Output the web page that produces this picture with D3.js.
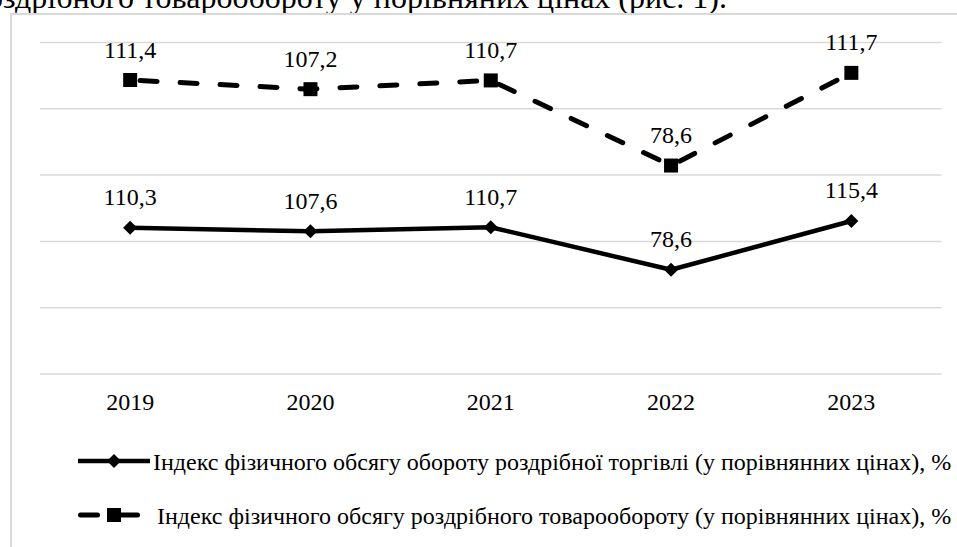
<!DOCTYPE html>
<html>
<head>
<meta charset="utf-8">
<script src="https://cdn.jsdelivr.net/npm/d3@7"></script>
<style>
  html, body { margin: 0; padding: 0; background: #fff; }
  svg { display: block; }
  text { font-family: "Liberation Serif", serif; }
</style>
</head>
<body>
<svg id="chart" width="957" height="547"></svg>
<script>
// Years on the category axis
const years = ["2019", "2020", "2021", "2022", "2023"];

// Index of physical volume of retail trade turnover (comparable prices), %
const retailTrade = [110.3, 107.6, 110.7, 78.6, 115.4];

// Index of physical volume of retail commodity turnover (comparable prices), %
const retailTurnover = [111.4, 107.2, 110.7, 78.6, 111.7];

// Value-axis gridlines (no tick labels are printed)
const gridTicks = [0, 50, 100, 150, 200, 250];

const seriesNames = [
  "Індекс фізичного обсягу обороту роздрібної торгівлі (у порівнянних цінах), %",
  "Індекс фізичного обсягу роздрібного товарообороту (у порівнянних цінах), %"
];

const fmt = v => String(v).replace(".", ",");

const svg = d3.select("#chart");
const W = 957, H = 547;

// Preceding paragraph line, cut by the top of the frame
svg.append("text")
  .attr("x", 727).attr("y", 7.5)
  .attr("text-anchor", "end")
  .attr("font-size", 32)
  .attr("fill", "#000")
  .text("роздрібного товарообороту у порівняних цінах (рис. 1).");

// Chart frame
svg.append("path")
  .attr("d", `M11,${H} L11,14 L${W},14`)
  .attr("fill", "none")
  .attr("stroke", "#d9d9d9")
  .attr("stroke-width", 2);

// Scales
const x = d3.scaleBand().domain(years).range([40, 941.5]);
const cx = d => x(d) + x.bandwidth() / 2;
const y = d3.scaleLinear().domain([0, 250]).range([374, 42.5]);

// Stacked line layout: the second series sits on top of the first
const table = years.map((yr, i) => ({ year: yr, a: retailTrade[i], b: retailTurnover[i] }));
const stacked = d3.stack().keys(["a", "b"])(table);

// Gridlines
svg.append("g")
  .selectAll("line")
  .data(gridTicks)
  .join("line")
  .attr("x1", x.range()[0]).attr("x2", x.range()[1])
  .attr("y1", d => y(d)).attr("y2", d => y(d))
  .attr("stroke", "#d9d9d9")
  .attr("stroke-width", 1.5);

// Category labels
svg.append("g")
  .selectAll("text")
  .data(years)
  .join("text")
  .attr("x", d => cx(d))
  .attr("y", 410)
  .attr("text-anchor", "middle")
  .attr("font-size", 24)
  .text(d => d);

const line = d3.line()
  .x(d => cx(d.data.year))
  .y(d => y(d[1]));

// Series 1: solid line with diamonds
svg.append("path")
  .datum(stacked[0])
  .attr("d", line)
  .attr("fill", "none")
  .attr("stroke", "#000")
  .attr("stroke-width", 4.5)
  .attr("stroke-linejoin", "round");

// Series 2: dashed line with squares
svg.append("path")
  .datum(stacked[1])
  .attr("d", line)
  .attr("fill", "none")
  .attr("stroke", "#000")
  .attr("stroke-width", 5)
  .attr("stroke-linecap", "round")
  .attr("stroke-dasharray", "17,23")
  .attr("stroke-dashoffset", -10);

const diamondPath = "M0,-7 L7,0 L0,7 L-7,0 Z";
const squarePath = "M-7,-7 L7,-7 L7,7 L-7,7 Z";

svg.append("g")
  .selectAll("path")
  .data(stacked[0])
  .join("path")
  .attr("transform", d => `translate(${cx(d.data.year)},${y(d[1])})`)
  .attr("d", diamondPath)
  .attr("fill", "#000");

svg.append("g")
  .selectAll("path")
  .data(stacked[1])
  .join("path")
  .attr("transform", d => `translate(${cx(d.data.year)},${y(d[1])})`)
  .attr("d", squarePath)
  .attr("fill", "#000");

// Data labels above each point
stacked.forEach((s, si) => {
  const key = si === 0 ? "a" : "b";
  svg.append("g")
    .selectAll("text")
    .data(s)
    .join("text")
    .attr("x", d => cx(d.data.year))
    .attr("y", d => y(d[1]) - 22.5)
    .attr("text-anchor", "middle")
    .attr("font-size", 24)
    .text(d => fmt(d.data[key]));
});

// Legend
const legend = svg.append("g");
// solid entry
legend.append("line")
  .attr("x1", 78).attr("x2", 150).attr("y1", 461).attr("y2", 461)
  .attr("stroke", "#000").attr("stroke-width", 4.5);
legend.append("path")
  .attr("transform", "translate(114,461)")
  .attr("d", diamondPath).attr("fill", "#000");
legend.append("text")
  .attr("x", 153).attr("y", 469.5)
  .attr("font-size", 24)
  .text(seriesNames[0]);
// dashed entry
legend.append("line")
  .attr("x1", 80.5).attr("x2", 138).attr("y1", 515).attr("y2", 515)
  .attr("stroke", "#000").attr("stroke-width", 5)
  .attr("stroke-linecap", "round")
  .attr("stroke-dasharray", "17,23");
legend.append("path")
  .attr("transform", "translate(114,515)")
  .attr("d", squarePath).attr("fill", "#000");
legend.append("text")
  .attr("x", 157).attr("y", 523.5)
  .attr("font-size", 24)
  .text(seriesNames[1]);
</script>
</body>
</html>
